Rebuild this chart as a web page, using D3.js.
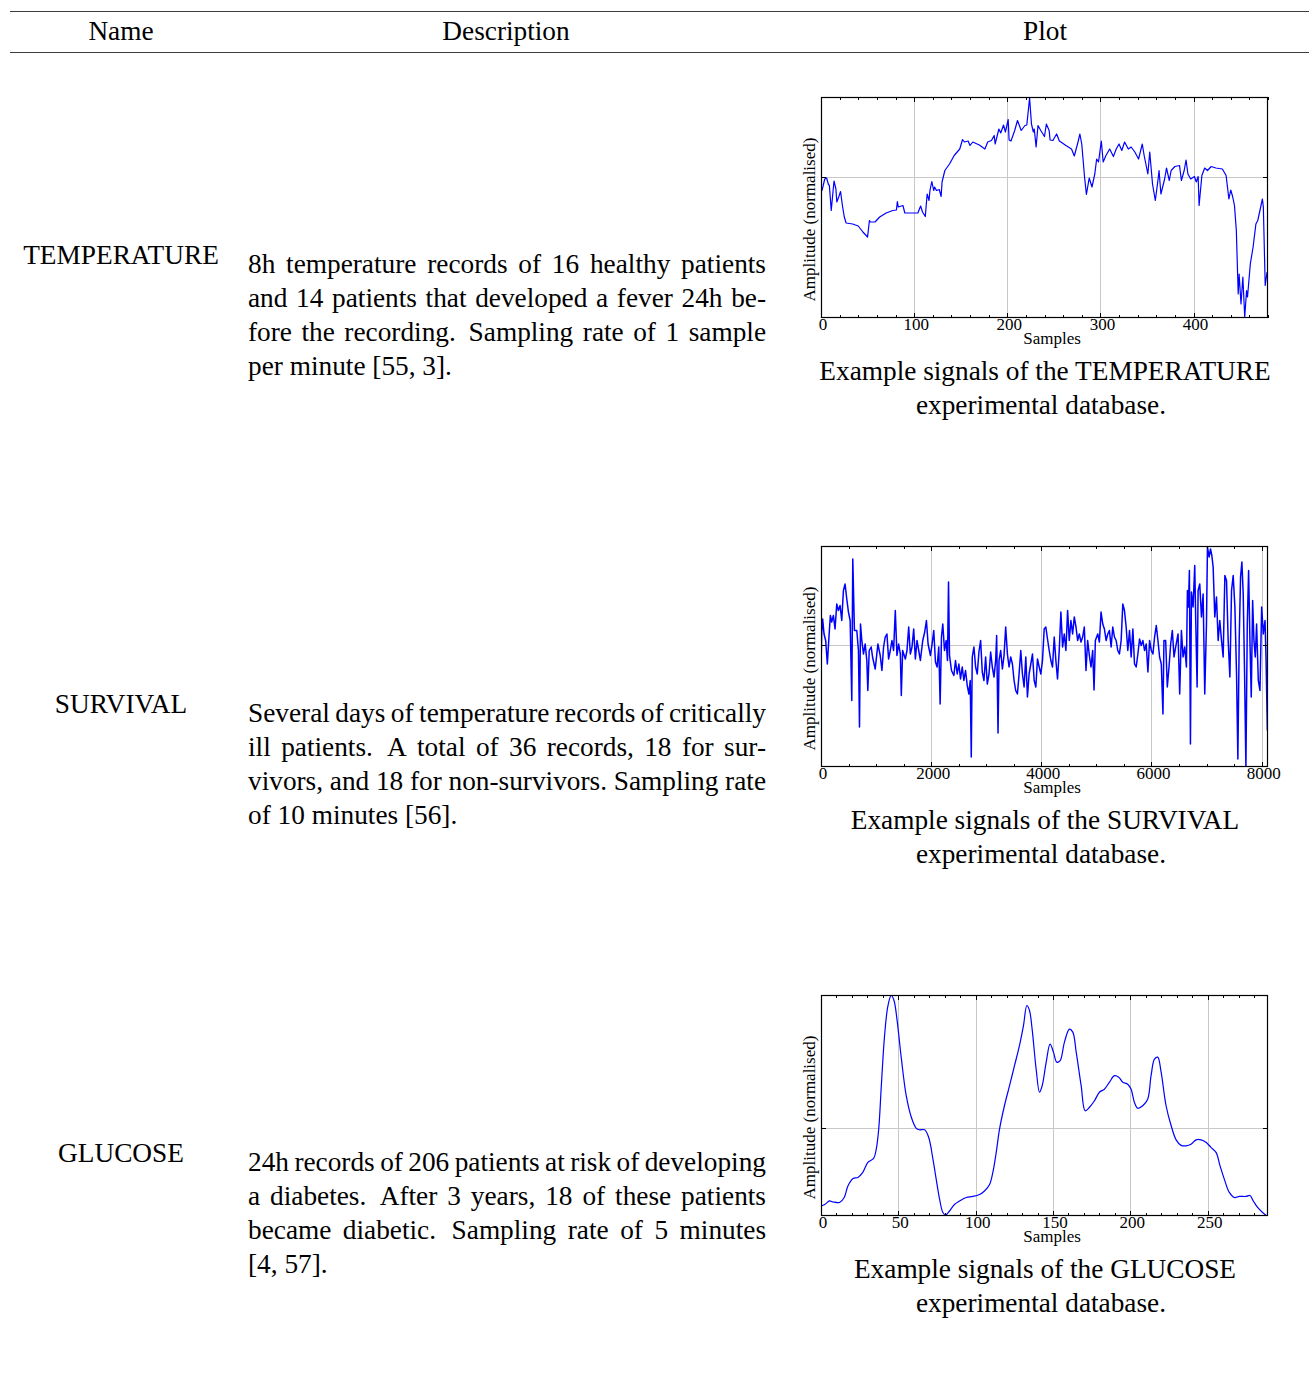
<!DOCTYPE html>
<html>
<head>
<meta charset="utf-8">
<script src="https://cdn.jsdelivr.net/npm/d3@7"></script>
<style>
  html, body { margin: 0; padding: 0; background: #fff; }
  svg { display: block; }
  text { font-family: "Liberation Serif", "Times New Roman", serif; fill: #000; }
</style>
</head>
<body>
<svg id="chart" width="1309" height="1389"></svg>
<script>
// ---- table content ----
const headers = ["Name", "Description", "Plot"];
const names = ["TEMPERATURE", "SURVIVAL", "GLUCOSE"];
const descriptions = [
  ["8h temperature records of 16 healthy patients",
   "and 14 patients that developed a fever 24h be-",
   "fore the recording.  Sampling rate of 1 sample",
   "per minute [55, 3]."],
  ["Several days of temperature records of critically",
   "ill patients.  A total of 36 records, 18 for sur-",
   "vivors, and 18 for non-survivors. Sampling rate",
   "of 10 minutes [56]."],
  ["24h records of 206 patients at risk of developing",
   "a diabetes.  After 3 years, 18 of these patients",
   "became diabetic.  Sampling rate of 5 minutes",
   "[4, 57]."]
];
const captions = [
  ["Example signals of the TEMPERATURE", "experimental database."],
  ["Example signals of the SURVIVAL", "experimental database."],
  ["Example signals of the GLUCOSE", "experimental database."]
];
const xLabel = "Samples";
const yLabel = "Amplitude (normalised)";

// ---- TEMPERATURE signal (sample index, normalised amplitude) ----
const tempSamples = [0,1,2,4,6,8,9,11,13,14,16,17,19,21,23,25,27,34,40,45,50,52,53,58,63,70,77,81,82,83,88,90,97,104,107,109,112,114,116,117,119,121,122,124,127,129,130,133,138,143,149,152,154,158,160,163,170,176,179,183,186,187,191,193,196,198,201,202,204,208,211,215,219,221,224,226,228,229,231,233,236,240,242,245,246,249,253,256,263,269,272,276,278,280,283,285,288,291,294,296,298,301,303,306,310,314,317,320,323,326,330,333,337,341,345,347,351,353,356,359,362,363,365,369,371,374,376,380,385,387,390,392,394,397,401,403,405,406,409,412,415,419,424,431,435,438,440,442,444,446,448,449,451,453,455,457,458,461,464,467,469,474,475,477,479];
const tempValues = [-0.18,-0.28,-0.21,-0.05,-0.03,-0.16,-0.18,-0.68,-0.28,-0.09,-0.25,-0.51,-0.41,-0.30,-0.58,-0.81,-0.93,-0.95,-0.99,-1.11,-1.21,-0.88,-0.91,-0.91,-0.81,-0.73,-0.68,-0.67,-0.50,-0.61,-0.58,-0.73,-0.73,-0.73,-0.59,-0.71,-0.80,-0.35,-0.48,-0.28,-0.10,-0.28,-0.21,-0.28,-0.26,-0.40,-0.11,0.12,0.25,0.42,0.55,0.74,0.69,0.71,0.62,0.69,0.63,0.55,0.69,0.72,0.82,0.65,0.95,0.87,1.03,0.89,1.14,0.73,0.71,0.92,1.12,0.92,1.02,1.03,1.57,1.05,0.89,0.95,0.59,1.02,0.92,0.80,1.05,0.92,0.73,0.72,0.85,0.71,0.62,0.55,0.41,0.69,0.85,0.65,-0.01,-0.36,-0.03,-0.21,0.05,0.35,0.29,0.71,0.29,0.42,0.55,0.40,0.55,0.65,0.52,0.69,0.55,0.59,0.49,0.35,0.65,0.42,0.05,0.49,-0.15,-0.48,-0.05,0.12,-0.35,-0.05,0.17,-0.08,0.12,0.20,0.22,-0.08,0.12,0.33,0.05,-0.05,0.00,-0.11,0.00,-0.58,0.02,0.17,0.12,0.20,0.17,0.15,0.02,-0.45,-0.27,-0.40,-0.58,-1.08,-2.35,-1.95,-2.55,-2.01,-2.81,-2.28,-2.41,-1.75,-1.41,-0.95,-0.88,-0.45,-0.61,-2.18,-1.91];

// ---- SURVIVAL signal ----
const survSamples = [0,12,30,55,85,115,146,170,194,225,255,286,316,346,377,407,437,468,498,529,559,577,607,650,680,699,717,741,771,802,832,850,875,911,936,984,1033,1075,1106,1136,1166,1197,1227,1258,1288,1318,1349,1379,1409,1440,1458,1482,1531,1561,1592,1622,1652,1683,1713,1743,1774,1804,1847,1883,1914,1944,1987,2017,2047,2078,2108,2138,2163,2187,2211,2242,2272,2296,2315,2333,2369,2412,2442,2473,2503,2533,2564,2594,2624,2655,2685,2709,2728,2746,2776,2807,2837,2867,2898,2928,2958,2989,3019,3050,3080,3110,3141,3171,3189,3214,3232,3262,3293,3323,3353,3384,3414,3444,3475,3505,3535,3566,3596,3627,3657,3687,3718,3748,3778,3809,3839,3870,3900,3930,3961,3991,4021,4052,4082,4112,4143,4173,4203,4234,4264,4294,4325,4355,4386,4416,4446,4477,4507,4537,4568,4598,4629,4659,4689,4720,4750,4780,4811,4841,4872,4902,4932,4957,4981,5024,5054,5084,5115,5145,5176,5206,5236,5267,5297,5327,5358,5388,5418,5449,5479,5509,5540,5570,5601,5631,5662,5692,5722,5753,5783,5813,5844,5874,5904,5935,5965,5996,6026,6056,6087,6117,6147,6178,6208,6226,6257,6287,6318,6348,6378,6409,6439,6482,6512,6543,6573,6603,6634,6652,6670,6688,6707,6725,6755,6785,6803,6828,6846,6876,6907,6937,6967,6998,7016,7046,7071,7095,7119,7149,7180,7210,7240,7271,7301,7332,7362,7392,7423,7453,7483,7514,7544,7568,7592,7617,7641,7665,7690,7714,7739,7763,7787,7811,7836,7860,7884,7908,7939,7969,8000,8030,8061,8079,8104];
const survValues = [-0.49,0.21,0.51,0.21,0.08,-0.39,0.18,0.58,0.45,0.58,0.31,0.81,0.68,0.78,0.48,1.08,1.21,0.91,0.65,0.48,-1.12,1.71,0.28,0.28,-0.12,-1.65,0.41,0.08,-0.19,0.01,-0.32,-0.92,-0.12,-0.05,-0.25,-0.49,0.01,-0.22,-0.52,-0.05,0.15,0.21,-0.29,-0.12,0.08,-0.12,0.68,-0.22,0.01,-0.19,-1.02,-0.12,-0.29,-0.12,0.35,-0.19,-0.05,0.31,-0.29,0.08,-0.12,-0.32,0.08,0.25,0.48,0.01,-0.22,0.01,0.28,-0.35,-0.45,-0.05,-1.19,0.15,0.41,-0.12,0.08,-0.32,1.25,-0.22,-0.52,-0.62,-0.32,-0.59,-0.39,-0.69,-0.45,-0.72,-0.52,-0.82,-0.99,-0.72,-2.25,-0.25,-0.05,-0.45,-0.59,-0.15,0.08,-0.55,-0.72,-0.25,-0.79,-0.59,-0.15,-0.45,-0.65,-0.32,0.18,-1.77,-0.32,-0.12,-0.49,-0.22,0.35,-0.19,-0.45,-0.25,-0.39,-0.72,-0.92,-0.99,-0.59,-0.12,-0.59,-0.85,-0.25,-1.05,-0.59,-0.39,-0.19,-0.72,-0.85,-0.29,-0.45,-0.59,-0.32,0.31,0.35,0.11,-0.12,-0.32,-0.45,0.15,-0.32,-0.69,-0.12,0.65,-0.05,0.21,-0.12,0.68,0.08,0.48,0.21,0.55,0.35,0.08,0.21,0.05,0.15,0.35,-0.52,0.08,-0.22,-0.45,-0.12,-0.91,0.08,0.21,0.05,0.65,0.41,0.31,0.08,0.21,0.28,-0.05,0.35,0.15,0.08,-0.12,-0.19,0.08,0.81,0.68,0.35,-0.12,0.28,-0.25,0.31,-0.39,-0.45,-0.19,0.11,-0.02,0.08,-0.12,0.01,-0.55,0.08,-0.12,-0.19,0.15,0.38,0.08,-0.25,-0.39,-1.39,0.08,0.08,-0.85,-0.45,0.01,0.28,-0.25,-0.05,0.21,-0.99,0.28,-0.25,-0.05,-0.45,1.08,0.75,1.48,-1.99,1.05,0.75,1.58,0.48,-0.85,1.08,1.21,0.55,1.01,-0.99,0.41,1.95,1.75,1.91,1.78,1.55,0.55,0.95,0.08,0.48,0.08,-0.25,1.38,1.28,0.08,-0.65,1.08,1.38,0.75,-0.59,-2.29,0.08,1.35,1.65,1.01,-0.59,-2.45,0.41,1.48,0.08,-1.05,0.88,0.08,-0.25,0.41,-0.72,-0.92,0.75,0.21,0.48,-0.25,-1.72];

// ---- GLUCOSE signal ----
const glucSamples = [0,2.4,5.6,7.8,12,15,17.4,20.7,23.9,27,30.3,34,35.7,37.3,39,41.1,43.3,45.4,47.2,49.1,52,55.1,58.4,61.6,63.7,67,69.6,72.4,74.5,76.7,78.8,80.5,83.1,86.3,89.6,93.9,98.2,102.5,105.7,109,111.1,113.3,115.4,118.6,121.9,125.1,128.3,130.9,133.1,134.8,136.5,139.1,141.3,143,145.6,148.1,150.3,152.4,154.6,157.4,160.6,162.8,165,168.2,170.8,173.6,176.8,180,183.2,186.5,189.7,192.5,195.1,198.3,200.5,202.6,204.8,208,211.2,213.4,215.6,217.7,219.9,223.1,226.4,229.6,232.8,236,239.2,242.5,245.7,248.9,252.1,255.4,258,260.8,264,267.2,270.5,274.8,277.3,279.5,282.3,285.5,288.3];
const glucValues = [-1.56,-1.53,-1.46,-1.48,-1.49,-1.39,-1.16,-1.01,-0.99,-0.89,-0.69,-0.61,-0.43,-0.03,0.84,1.84,2.44,2.64,2.54,2.17,1.37,0.64,0.21,-0.01,-0.04,-0.04,-0.19,-0.63,-1.03,-1.43,-1.69,-1.74,-1.66,-1.53,-1.46,-1.39,-1.37,-1.33,-1.26,-1.13,-0.89,-0.49,-0.03,0.44,0.84,1.24,1.64,2.04,2.44,2.34,1.97,1.17,0.71,0.84,1.31,1.67,1.51,1.31,1.34,1.71,1.97,1.91,1.51,0.84,0.34,0.41,0.54,0.71,0.77,0.91,1.04,1.01,0.91,0.87,0.77,0.51,0.39,0.44,0.57,1.04,1.37,1.41,1.11,0.44,0.04,-0.24,-0.35,-0.36,-0.33,-0.24,-0.24,-0.29,-0.39,-0.49,-0.76,-1.03,-1.29,-1.39,-1.37,-1.37,-1.35,-1.46,-1.59,-1.69,-1.76];

// ---- axis settings per plot ----
const xDomains = [[0, 480], [0, 8115], [0, 289]];
const yDomains = [[-2.83, 1.59], [-2.45, 1.97], [-1.76, 2.65]];
const xMajorTicks = [[0, 100, 200, 300, 400], [0, 2000, 4000, 6000, 8000], [0, 50, 100, 150, 200, 250]];
const xMinorSteps = [20, 500, 10];
const yMajorTicks = [[0], [0], [0]];

// ---- layout ----
const svg = d3.select("#chart");
const ROW = 449;
const BIG = 27.3, SMALL = 17;
const plotLeft = 821, plotW = 447, plotH = 221, plotTop0 = 97;
const seriesList = [
  { s: tempSamples, v: tempValues, curve: d3.curveLinear, w: 1.2 },
  { s: survSamples, v: survValues, curve: d3.curveLinear, w: 1.5 },
  { s: glucSamples, v: glucValues, curve: d3.curveCatmullRom.alpha(0.5), w: 1.2 }
];

// header rules and titles
svg.append("line").attr("x1", 10).attr("x2", 1309).attr("y1", 11.5).attr("y2", 11.5)
  .attr("stroke", "#3c3c3c").attr("stroke-width", 1.1);
svg.append("line").attr("x1", 10).attr("x2", 1309).attr("y1", 52.5).attr("y2", 52.5)
  .attr("stroke", "#3c3c3c").attr("stroke-width", 1.1);
const headerX = [121, 506, 1045];
headers.forEach((h, i) => {
  svg.append("text").attr("x", headerX[i]).attr("y", 40).attr("text-anchor", "middle")
    .attr("font-size", BIG).text(h);
});

// justified paragraph: each full line is stretched across [x0, x1]
function justifiedLines(g, lines, x0, x1, y0, lh, size) {
  lines.forEach((line, li) => {
    const y = y0 + li * lh;
    const last = li === lines.length - 1;
    const t = g.append("text").attr("y", y).attr("font-size", size);
    if (last) { t.attr("x", x0).text(line); return; }
    // split words, remembering where a sentence ends (double space)
    const parts = line.split(/( {1,2})/);
    const words = [], gapW = [];
    parts.forEach(p => {
      if (p === " ") gapW.push(1);
      else if (p === "  ") gapW.push(1.35);
      else if (p.length) words.push(p);
    });
    const tmp = g.append("text").attr("font-size", size).attr("visibility", "hidden");
    const widths = words.map(w => { tmp.text(w); return tmp.node().getComputedTextLength(); });
    tmp.remove();
    const total = d3.sum(widths);
    const unit = (x1 - x0 - total) / d3.sum(gapW);
    let x = x0;
    words.forEach((w, i) => {
      t.append("tspan").attr("x", x).text(w);
      x += widths[i] + (i < gapW.length ? gapW[i] * unit : 0);
    });
  });
}

seriesList.forEach((ser, i) => {
  const off = i * ROW;
  const top = plotTop0 + off;
  const bottom = top + plotH;

  // name column
  svg.append("text").attr("x", 121).attr("y", 264 + off).attr("text-anchor", "middle")
    .attr("font-size", BIG).text(names[i]);

  // description column
  justifiedLines(svg.append("g"), descriptions[i], 248, 766, 273 + off, 34, BIG);

  // plot
  const x = d3.scaleLinear().domain(xDomains[i]).range([plotLeft, plotLeft + plotW]);
  const y = d3.scaleLinear().domain(yDomains[i]).range([bottom, top]);
  const g = svg.append("g");

  // grid
  g.selectAll(".vg").data(xMajorTicks[i].filter(d => d > xDomains[i][0])).enter().append("line")
    .attr("x1", d => Math.round(x(d)) + 0.5).attr("x2", d => Math.round(x(d)) + 0.5)
    .attr("y1", top).attr("y2", bottom).attr("stroke", "#c8c8c8").attr("stroke-width", 1);
  g.selectAll(".hg").data(yMajorTicks[i]).enter().append("line")
    .attr("x1", plotLeft).attr("x2", plotLeft + plotW)
    .attr("y1", d => Math.round(y(d)) + 0.5).attr("y2", d => Math.round(y(d)) + 0.5)
    .attr("stroke", "#c8c8c8").attr("stroke-width", 1);

  // signal
  const clipId = "clip" + i;
  svg.append("clipPath").attr("id", clipId).append("rect")
    .attr("x", plotLeft).attr("y", top).attr("width", plotW).attr("height", plotH);
  const pts = ser.s.map((s, k) => [s, ser.v[k]]);
  g.append("path").datum(pts)
    .attr("clip-path", `url(#${clipId})`)
    .attr("fill", "none").attr("stroke", "#0000ff").attr("stroke-width", ser.w)
    .attr("stroke-linejoin", "round")
    .attr("d", d3.line().x(d => x(d[0])).y(d => y(d[1])).curve(ser.curve));

  // inward ticks (minor + major) on top and bottom
  const minor = d3.range(xDomains[i][0], xDomains[i][1] + 1e-9, xMinorSteps[i]);
  const isMajor = d => xMajorTicks[i].includes(d);
  minor.forEach(d => {
    const len = isMajor(d) ? 5 : 3;
    const px = Math.round(x(d)) + 0.5;
    g.append("line").attr("x1", px).attr("x2", px).attr("y1", bottom).attr("y2", bottom - len)
      .attr("stroke", "#000").attr("stroke-width", 1);
    g.append("line").attr("x1", px).attr("x2", px).attr("y1", top).attr("y2", top + len)
      .attr("stroke", "#000").attr("stroke-width", 1);
  });
  yMajorTicks[i].forEach(d => {
    const py = Math.round(y(d)) + 0.5;
    g.append("line").attr("x1", plotLeft).attr("x2", plotLeft + 5).attr("y1", py).attr("y2", py)
      .attr("stroke", "#000");
    g.append("line").attr("x1", plotLeft + plotW).attr("x2", plotLeft + plotW - 5).attr("y1", py).attr("y2", py)
      .attr("stroke", "#000");
  });

  // frame
  g.append("rect").attr("x", plotLeft + 0.5).attr("y", top + 0.5)
    .attr("width", plotW - 1).attr("height", plotH - 1)
    .attr("fill", "none").attr("stroke", "#000").attr("stroke-width", 1.2);

  // tick labels
  g.selectAll(".tl").data(xMajorTicks[i]).enter().append("text")
    .attr("x", d => x(d) + 2).attr("y", bottom + 11.5).attr("text-anchor", "middle")
    .attr("font-size", SMALL).text(d => d);

  // axis labels
  g.append("text").attr("x", 1052).attr("y", bottom + 25.5).attr("text-anchor", "middle")
    .attr("font-size", SMALL).text(xLabel);
  g.append("text").attr("transform", `translate(815,${top + plotH / 2 + 12}) rotate(-90)`)
    .attr("text-anchor", "middle").attr("font-size", SMALL).text(yLabel);

  // caption
  svg.append("text").attr("x", 1045).attr("y", top + 283).attr("text-anchor", "middle")
    .attr("font-size", BIG).text(captions[i][0]);
  svg.append("text").attr("x", 1041).attr("y", top + 317).attr("text-anchor", "middle")
    .attr("font-size", BIG).text(captions[i][1]);
});
</script>
</body>
</html>
